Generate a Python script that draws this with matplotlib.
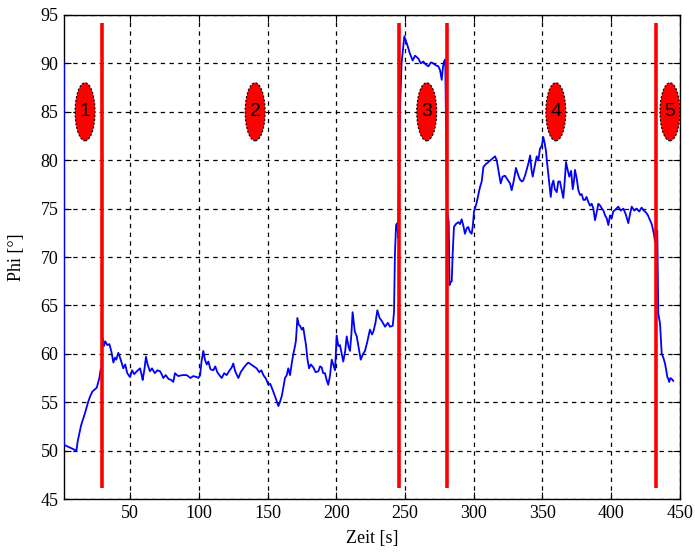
import matplotlib
matplotlib.use("Agg")
import matplotlib.pyplot as plt
from matplotlib.patches import Ellipse

# Measured angle over time
zeit = [
    2, 2.05, 5, 8, 11, 12, 14.4, 17.3, 19.5, 21, 22.6, 25.8, 27.7, 28.7, 29.4,
    29.7, 30.2, 31, 32, 33.5, 35, 36.5, 37.9, 39, 40, 41.5, 43, 45.1, 46.5, 48,
    50, 51.5, 53, 55, 57.3, 58.5, 59.2, 60.5, 61.6, 62.8, 64.5, 66, 68, 70, 71.8,
    73, 74.2, 76, 78, 80, 81.5, 82.7, 85, 88, 91.2, 94, 96, 98.5, 99.7, 101,
    102, 103.3, 104.5, 105.8, 107, 108.5, 110.6, 112, 113.5, 115, 116.7, 118.5,
    120.3, 122, 124, 125.1, 126.5, 128.8, 130.5, 132.4, 134, 136, 138, 140,
    142.1, 144, 145.5, 147, 149, 150.6, 152, 154.2, 156, 157.9, 159, 160.3,
    161.5, 162.7, 164, 165.1, 166.4, 167.5, 168.8, 170, 170.7, 171.7, 172.8,
    173.6, 175, 176, 177, 178, 179, 180.2, 181.5, 183.3, 185, 187, 188.2, 189.4,
    190.5, 191.8, 193, 194.2, 195.5, 196.7, 198, 199.1, 200.3, 201.5, 202.7,
    204, 205.1, 206.5, 207.6, 209, 210, 211, 211.9, 213.5, 214.9, 216.5, 217.8,
    219.5, 220.9, 222.5, 224.5, 226, 227, 228.5, 229.9, 231.5, 233.1, 235.5,
    237.5, 239.1, 241.1, 242, 242.7, 243.5, 244.4, 245.0,
    245.8, 246.4, 247.5, 249.5, 250.5, 251.7, 253.6, 255.6, 257.3, 259.7, 261.5,
    263.3, 265, 267, 268.8, 270.6, 272.5, 274.2, 275.5, 276.7, 277.5, 278.4,
    279.3,
    280.5, 281.8, 282.4, 283.2, 284, 284.7, 285.6, 287, 288.8, 290, 291.2,
    292.5, 293.6, 295, 296, 297.2, 298.5, 299.3, 300.2, 302.1, 304.5, 305.8,
    307, 308.8, 310.6, 313, 315.5, 316.7, 317.9, 319.6, 321, 322.7, 324.5,
    326.4, 327.6, 329, 330.7, 332, 333.6, 335, 336, 337.5, 339, 340, 341, 342,
    342.9, 344.5, 345.8, 347, 348.2, 349.5, 350.6, 351.5, 352.5, 353.3, 354.2,
    355.1, 356, 357, 357.9, 359, 360.4, 361.5, 362.7, 363.8, 365.1, 366, 367.1,
    368.3, 369.5, 370.8, 372, 373, 373.6, 374.8, 376.1, 377.3, 378.5, 379.7,
    380.9, 382, 383.3, 384.5, 385.8, 387, 388.2, 389.4, 390.6, 392, 393.2,
    394.3, 395.5, 396.7, 397.9, 399.1, 400.3, 401.5, 403, 405.1, 406.9, 408.8,
    410.6, 412.4, 413.6, 414.9, 416.7, 418.5, 420.3, 422.1, 423.7, 425.3,
    426.7, 428.2, 429.2, 430.1, 431, 431.8, 432.6, 433.5, 434.2, 435.5, 436.7,
    437.9, 439.1, 440, 440.8, 441.5, 442.2, 443, 444, 445.1,
]
phi = [
    90, 50.6, 50.4, 50.2, 50.0, 51, 52.6, 53.9, 55.0, 55.6, 56.1, 56.5, 57.5, 58.4, 58.6,
    60.5, 61.6, 60.8, 61.3, 60.9, 61.0, 60.2, 59.1, 59.6, 59.4, 60.1, 59.5, 58.5, 58.9, 58.0,
    57.6, 58.3, 57.9, 58.2, 58.5, 57.8, 57.3, 58.4, 59.7, 58.9, 58.2, 58.5, 58.0, 58.3, 58.2,
    57.9, 57.5, 57.8, 57.4, 57.3, 57.1, 58.0, 57.7, 57.8, 57.8, 57.5, 57.7, 57.6, 57.5, 57.8,
    59.2, 60.3, 59.4, 58.9, 59.2, 58.4, 58.3, 58.7, 58.1, 57.8, 57.5, 58.0,
    57.8, 58.2, 58.6, 59.0, 58.2, 57.5, 58.1, 58.5, 58.8, 59.1, 58.9, 58.7,
    58.5, 58.1, 58.3, 57.8, 57.4, 56.8, 56.9, 56.1, 55.4, 54.6, 55.0, 55.6,
    56.5, 57.5, 57.8, 58.5, 57.8, 58.9, 60.0, 60.8, 61.4, 63.7, 63.0,
    62.9, 62.5, 62.7, 61.8, 60.9, 59.5, 58.5, 58.9, 58.6, 58.1, 58.2, 58.7, 58.6,
    58.0, 58.0, 57.3, 56.8, 57.8, 59.4, 58.8, 58.3, 61.9, 60.8, 60.9,
    60.0, 59.2, 60.3, 61.8, 60.7, 60.3, 62.0, 64.3, 62.3, 61.8, 60.5, 59.4,
    60.0, 60.3, 61.2, 62.5, 62.0, 62.3, 63.2, 64.5, 63.7, 63.4, 62.8,
    63.2, 62.8, 62.9, 64.3, 70.4, 73.3, 73.5, 72.0,
    80, 85.4, 90, 92.8, 92.4, 91.9, 91.0, 90.3, 90.8, 90.5, 90.0,
    90.2, 89.9, 89.7, 90.1, 90.0, 89.8, 89.7, 89.3, 88.3, 89.5, 90.2,
    90.4,
    75, 73.6, 67.1, 67.4, 67.5, 70.4, 73.1, 73.4, 73.6, 73.4, 73.9,
    73.2, 72.4, 73.0, 73.1, 72.6, 72.4, 73.2, 74.7, 75.6, 77.2, 77.8,
    79.3, 79.6, 79.8, 80.1, 80.4, 80.0, 79.0, 77.6, 78.3, 78.4, 78.0,
    77.6, 76.9, 77.8, 79.2, 78.6, 78.0, 77.8, 77.9, 78.5, 79.3, 79.8, 80.5, 79.0,
    78.3, 79.5, 80.4, 80.0, 81.2, 81.5, 82.4, 81.8, 81.0, 79.8, 78.6,
    77.5, 76.2, 77.5, 77.9, 77.0, 76.7, 77.8, 77.8, 77.0, 76.1, 77.5, 79.8,
    79.0, 78.3, 78.9, 77.0, 78.0, 79.0, 78.2, 76.9, 76.4, 76.5, 75.9,
    75.9, 76.2, 75.7, 75.3, 75.5, 75.0, 73.8, 74.6, 75.5, 75.3, 75.0,
    74.8, 74.3, 74.0, 73.3, 74.3, 74.0, 74.7, 74.9, 75.2, 74.8, 75.0,
    74.4, 73.5, 74.4, 75.2, 74.8, 75.0, 74.7, 75.1, 74.8, 74.6,
    74.3, 73.8, 73.5, 73.0, 72.4, 71.6, 72.2, 72.7, 64.2, 63.1, 60.0,
    59.6, 59.0, 58.3, 57.6, 57.4, 57.1, 57.5, 57.4, 57.2,
]

# Phase boundaries and phase markers
grenzen = [29.5, 245.5, 280.3, 432.7]
phasen = ["1", "2", "3", "4", "5"]
phasen_x = [17.3, 141.0, 265.8, 359.7, 442.7]
phasen_y = 85

fig = plt.figure(figsize=(6.95, 5.53), dpi=100)
ax = fig.add_axes([0.0921, 0.0976, 0.8863, 0.8753])

serif = ["Liberation Serif", "DejaVu Serif"]

ax.plot(zeit, phi, color="#0000ff", lw=1.3, zorder=3)
ax.vlines(grenzen, 46.1, 94.2, color="#ff0000", lw=2.6, zorder=4)

for lab, xc in zip(phasen, phasen_x):
    ax.add_patch(Ellipse((xc, phasen_y), 14.5, 6.0, facecolor="#ff0000",
                         edgecolor="black", lw=0.8, ls=(0, (2, 1.5)), zorder=5))
    ax.text(xc, phasen_y, lab, ha="center", va="center", fontsize=14,
            family=["Liberation Sans", "DejaVu Sans"], color="black", zorder=6)

ax.set_xlim(2, 450)
ax.set_ylim(45, 95)
ax.set_xticks(range(50, 451, 50))
ax.set_yticks(range(45, 96, 5))
ax.grid(True, color="black", ls=(0, (3.5, 3.5)), lw=0.9)
ax.tick_params(direction="in", top=True, right=True, length=5, width=0.8,
               labelsize=13, pad=4)
for lbl in ax.get_xticklabels() + ax.get_yticklabels():
    lbl.set_family(serif)
for s in ax.spines.values():
    s.set_linewidth(1.0)
    s.set_color("black")

ax.set_xlabel("Zeit [s]", fontsize=13, family=serif, labelpad=6)
ax.set_ylabel("Phi [°]", fontsize=13, family=serif, labelpad=11)

fig.savefig("out.png", dpi=100)
